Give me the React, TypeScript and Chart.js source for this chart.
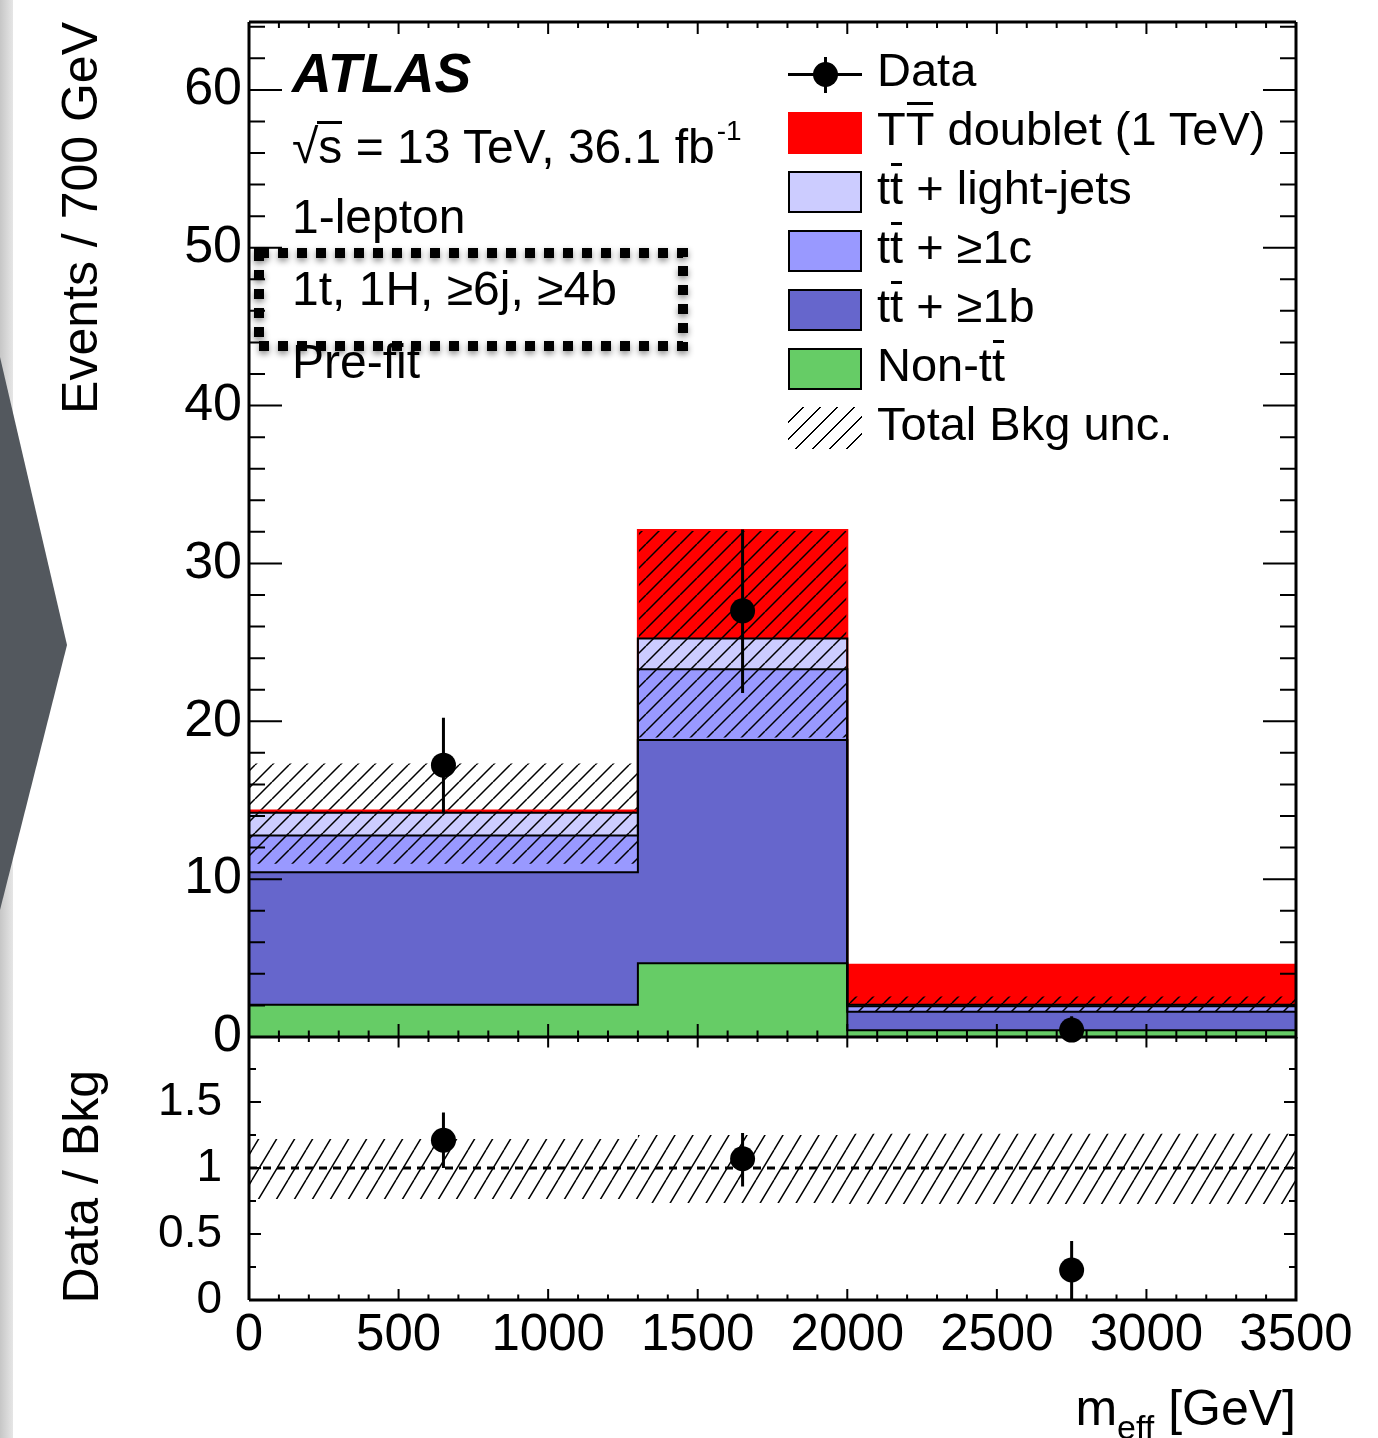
import React, { useEffect, useRef } from 'react';
import { Chart, registerables } from 'chart.js';

Chart.register(...registerables);

const FONT = "'Liberation Sans', Arial, Helvetica, sans-serif";

// ---------------- data ----------------
const binEdges = [0, 1300, 2000, 3500];
const binCenters = [650, 1650, 2750];
const nonTtbar = [2.04, 4.67, 0.42];
const ttbarB = [8.39, 14.15, 1.18];
const ttbarC = [2.33, 4.48, 0.35];
const ttbarLight = [1.45, 1.95, 0.1];
const signalTT = [0.14, 6.87, 2.52];
const bkgUncUp = [17.33, 32.1, 2.56];
const bkgUncDown = [10.97, 18.98, 1.6];
const dataY = [17.22, 27.0, 0.44];
const dataErrLow = [14.18, 21.8, 0.0];
const dataErrHigh = [20.22, 32.15, 1.32];
const ratioY = [1.21, 1.07, 0.227];
const ratioErrLow = [1.0, 0.86, 0.0];
const ratioErrHigh = [1.42, 1.265, 0.447];
const ratioUncUp = [1.22, 1.25, 1.26];
const ratioUncDown = [0.765, 0.735, 0.727];

const xMajorTicks = [0, 500, 1000, 1500, 2000, 2500, 3000, 3500];
const xMinorStep = 100;
const mainYMajorTicks = [0, 10, 20, 30, 40, 50, 60];
const mainYMinorStep = 2;
const ratioYMajorTicks = [0, 0.5, 1, 1.5];
const ratioYMinorStep = 0.25;

const COLORS = {
  signal: '#ff0000',
  light: '#ccccff',
  c: '#9999ff',
  b: '#6666cc',
  nonTt: '#66cc66',
};

// ---------------- helpers ----------------
const stepPoints = (vals: number[]) => [
  ...vals.map((v, i) => ({ x: binEdges[i], y: v })),
  { x: binEdges[binEdges.length - 1], y: vals[vals.length - 1] },
];

const cumulative = (...layers: number[][]) =>
  layers[0].map((_, i) => layers.reduce((s, l) => s + l[i], 0));

const errorBarPoints = (lo: number[], hi: number[]) =>
  binCenters.flatMap((c, i) => [
    { x: c, y: lo[i] },
    { x: c, y: hi[i] },
    { x: c, y: null as any },
  ]);

function makeHatch(w: number, h: number, lw: number) {
  const c = document.createElement('canvas');
  c.width = w;
  c.height = h;
  const g = c.getContext('2d')!;
  g.strokeStyle = '#000';
  g.lineWidth = lw;
  g.beginPath();
  for (const dx of [-w, 0, w]) {
    g.moveTo(dx, h);
    g.lineTo(dx + w, 0);
  }
  g.stroke();
  return g.createPattern(c, 'repeat')!;
}

type FrameCfg = {
  xMajBottom: number; xMinBottom: number; xMajTop: number; xMinTop: number;
  yMaj: number; yMin: number; yMajors: number[]; yStep: number; drawTop: boolean;
};

function framePlugin(cfg: FrameCfg) {
  return {
    id: 'rootFrame',
    afterDatasetDraw(chart: any, args: any) {
      if (args.index !== 1) return;
      const { ctx, chartArea: a } = chart;
      const xs = chart.scales.x;
      const ys = chart.scales.y;
      ctx.save();
      ctx.strokeStyle = '#000';
      ctx.lineWidth = 2;
      ctx.beginPath();
      for (let k = 0; k * xMinorStep <= xs.max + 1e-9; k++) {
        const v = k * xMinorStep;
        const p = xs.getPixelForValue(v);
        const major = xMajorTicks.some((m) => Math.abs(m - v) < 1e-6);
        const lb = major ? cfg.xMajBottom : cfg.xMinBottom;
        const lt = major ? cfg.xMajTop : cfg.xMinTop;
        ctx.moveTo(p, a.bottom);
        ctx.lineTo(p, a.bottom - lb);
        ctx.moveTo(p, a.top);
        ctx.lineTo(p, a.top + lt);
      }
      for (let k = 0; k * cfg.yStep <= ys.max + 1e-9; k++) {
        const v = k * cfg.yStep;
        const p = ys.getPixelForValue(v);
        const major = cfg.yMajors.some((m) => Math.abs(m - v) < 1e-6);
        const l = major ? cfg.yMaj : cfg.yMin;
        ctx.moveTo(a.left, p);
        ctx.lineTo(a.left + l, p);
        ctx.moveTo(a.right, p);
        ctx.lineTo(a.right - l, p);
      }
      ctx.stroke();
      ctx.lineWidth = 3;
      ctx.beginPath();
      if (cfg.drawTop) {
        ctx.moveTo(a.left, a.top);
        ctx.lineTo(a.right, a.top);
      }
      ctx.moveTo(a.right, a.top);
      ctx.lineTo(a.right, a.bottom);
      ctx.lineTo(a.left, a.bottom);
      ctx.moveTo(a.left, a.top);
      ctx.lineTo(a.left, a.bottom);
      ctx.stroke();
      ctx.restore();
    },
  };
}

const stepDataset = (vals: number[], color: string, fill: any, border = '#000') => ({
  data: stepPoints(vals),
  borderColor: border,
  borderWidth: 2,
  backgroundColor: color,
  fill,
  stepped: true,
  pointRadius: 0,
  tension: 0,
});

const noPad = (s: any) => {
  s.paddingTop = 0;
  s.paddingBottom = 0;
  s.paddingLeft = 0;
  s.paddingRight = 0;
};

function mainConfig(): any {
  const topNon = nonTtbar;
  const topB = cumulative(nonTtbar, ttbarB);
  const topC = cumulative(nonTtbar, ttbarB, ttbarC);
  const topL = cumulative(nonTtbar, ttbarB, ttbarC, ttbarLight);
  const topS = cumulative(nonTtbar, ttbarB, ttbarC, ttbarLight, signalTT);
  const hatch = makeHatch(17, 17, 1.5);
  return {
    type: 'line',
    data: {
      datasets: [
        {
          data: binCenters.map((c, i) => ({ x: c, y: dataY[i] })),
          showLine: false,
          pointRadius: 12.5,
          pointBackgroundColor: '#000',
          pointBorderColor: '#000',
          pointBorderWidth: 0,
          clip: false,
        },
        {
          data: errorBarPoints(dataErrLow, dataErrHigh),
          borderColor: '#000',
          borderWidth: 3,
          pointRadius: 0,
          fill: false,
          spanGaps: false,
          clip: false,
        },
        {
          data: stepPoints(bkgUncUp),
          borderWidth: 0,
          borderColor: 'rgba(0,0,0,0)',
          backgroundColor: hatch,
          fill: 3,
          stepped: true,
          pointRadius: 0,
        },
        {
          data: stepPoints(bkgUncDown),
          borderWidth: 0,
          borderColor: 'rgba(0,0,0,0)',
          fill: false,
          stepped: true,
          pointRadius: 0,
        },
        stepDataset(topNon, COLORS.nonTt, 'origin'),
        stepDataset(topB, COLORS.b, '-1'),
        stepDataset(topC, COLORS.c, '-1'),
        stepDataset(topL, COLORS.light, '-1'),
        stepDataset(topS, COLORS.signal, '-1', COLORS.signal),
      ],
    },
    options: {
      responsive: false,
      animation: false,
      events: [],
      layout: { padding: { left: 0, right: 82, top: 22, bottom: 43 } },
      plugins: {
        legend: { display: false },
        tooltip: { enabled: false },
        filler: { drawTime: 'beforeDatasetsDraw', propagate: false },
      },
      scales: {
        x: { type: 'linear', min: 0, max: 3500, display: false },
        y: {
          type: 'linear',
          min: 0,
          max: 64.3,
          afterBuildTicks: (s: any) => {
            s.ticks = mainYMajorTicks.map((v) => ({ value: v }));
          },
          afterFit: (s: any) => {
            s.width = 249;
            noPad(s);
          },
          ticks: {
            color: '#000',
            font: { family: FONT, size: 52 },
            padding: 7,
            callback: (v: any) => String(v),
          },
          grid: { display: false, drawTicks: false },
          border: { display: false },
        },
      },
    },
    plugins: [
      framePlugin({
        xMajBottom: 13, xMinBottom: 6.5, xMajTop: 12, xMinTop: 6,
        yMaj: 33, yMin: 16, yMajors: mainYMajorTicks, yStep: mainYMinorStep, drawTop: true,
      }),
    ],
  };
}

function ratioConfig(): any {
  const hatch = makeHatch(18, 30, 1.5);
  return {
    type: 'line',
    data: {
      datasets: [
        {
          data: binCenters.map((c, i) => ({ x: c, y: ratioY[i] })),
          showLine: false,
          pointRadius: 12.5,
          pointBackgroundColor: '#000',
          pointBorderColor: '#000',
          pointBorderWidth: 0,
          clip: false,
        },
        {
          data: errorBarPoints(ratioErrLow, ratioErrHigh),
          borderColor: '#000',
          borderWidth: 3,
          pointRadius: 0,
          fill: false,
          spanGaps: false,
        },
        {
          data: [{ x: 0, y: 1 }, { x: 3500, y: 1 }],
          borderColor: '#000',
          borderWidth: 3,
          borderDash: [8, 6],
          pointRadius: 0,
          fill: false,
        },
        {
          data: stepPoints(ratioUncUp),
          borderWidth: 0,
          borderColor: 'rgba(0,0,0,0)',
          backgroundColor: hatch,
          fill: 4,
          stepped: true,
          pointRadius: 0,
        },
        {
          data: stepPoints(ratioUncDown),
          borderWidth: 0,
          borderColor: 'rgba(0,0,0,0)',
          fill: false,
          stepped: true,
          pointRadius: 0,
        },
      ],
    },
    options: {
      responsive: false,
      animation: false,
      events: [],
      layout: { padding: { left: 0, right: 82, top: 37, bottom: 0 } },
      plugins: {
        legend: { display: false },
        tooltip: { enabled: false },
        filler: { drawTime: 'beforeDatasetsDraw', propagate: false },
      },
      scales: {
        x: {
          type: 'linear',
          min: 0,
          max: 3500,
          afterBuildTicks: (s: any) => {
            s.ticks = xMajorTicks.map((v) => ({ value: v }));
          },
          afterFit: (s: any) => {
            s.height = 138;
            noPad(s);
          },
          ticks: {
            color: '#000',
            font: { family: FONT, size: 51 },
            padding: 5,
            autoSkip: false,
            maxRotation: 0,
            minRotation: 0,
            callback: (v: any) => String(v),
          },
          grid: { display: false, drawTicks: false },
          border: { display: false },
        },
        y: {
          type: 'linear',
          min: 0,
          max: 1.992,
          afterBuildTicks: (s: any) => {
            s.ticks = ratioYMajorTicks.map((v) => ({ value: v }));
          },
          afterFit: (s: any) => {
            s.width = 249;
            noPad(s);
          },
          ticks: {
            color: '#000',
            font: { family: FONT, size: 46 },
            padding: 27,
            callback: (v: any) => String(v),
          },
          grid: { display: false, drawTicks: false },
          border: { display: false },
        },
      },
    },
    plugins: [
      framePlugin({
        xMajBottom: 11, xMinBottom: 5.5, xMajTop: 10.5, xMinTop: 5,
        yMaj: 12, yMin: 7, yMajors: ratioYMajorTicks, yStep: ratioYMinorStep, drawTop: false,
      }),
    ],
  };
}

// ---------------- text helpers ----------------
const Txt = ({ x, base, size, children, style }: any) => (
  <div
    style={{
      position: 'absolute',
      left: x,
      top: base - 0.8465 * size,
      fontSize: size,
      lineHeight: `${size}px`,
      fontFamily: FONT,
      whiteSpace: 'nowrap',
      color: '#000',
      ...style,
    }}
  >
    {children}
  </div>
);

const Ov = ({ children, size, rise, l = '6%', r = '6%' }: any) => (
  <span style={{ position: 'relative', display: 'inline-block' }}>
    {children}
    <span
      style={{
        position: 'absolute',
        left: l,
        right: r,
        top: 0.8465 * size - rise - 1.5,
        height: 3,
        background: '#000',
      }}
    />
  </span>
);

const LS = 47; // legend font size
const legendBase = (i: number) => 86 + 58.9 * i;
const swTop = (i: number) => 112 + 58.9 * (i - 1);

const Swatch = ({ i, color, border }: any) => (
  <div
    style={{
      position: 'absolute',
      left: 788,
      top: swTop(i),
      width: 74,
      height: 42,
      boxSizing: 'border-box',
      background: color,
      border: `2px solid ${border || '#000'}`,
    }}
  />
);

export default function App() {
  const mainRef = useRef<HTMLCanvasElement>(null);
  const ratioRef = useRef<HTMLCanvasElement>(null);

  useEffect(() => {
    const mainChart = new Chart(mainRef.current!, mainConfig());
    const ratioChart = new Chart(ratioRef.current!, ratioConfig());
    return () => {
      mainChart.destroy();
      ratioChart.destroy();
    };
  }, []);

  const TS = 48;
  return (
    <div
      style={{
        position: 'absolute',
        left: 0,
        top: 0,
        width: 1378,
        height: 1438,
        background: '#fff',
        overflow: 'hidden',
        fontFamily: FONT,
      }}
    >
      {/* page decorations */}
      <div
        style={{
          position: 'absolute', left: 0, top: 0, width: 13, height: 1438,
          background: 'linear-gradient(to right, #c6c6c6, #e6e6e6)',
        }}
      />
      <svg style={{ position: 'absolute', left: 0, top: 0 }} width={80} height={1438}>
        <polygon points="0,357 67,645 0,910" fill="#53585e" />
      </svg>

      <canvas
        ref={mainRef}
        width={1378}
        height={1080}
        style={{ position: 'absolute', left: 0, top: 0, width: 1378, height: 1080 }}
      />
      <canvas
        ref={ratioRef}
        width={1378}
        height={438}
        style={{ position: 'absolute', left: 0, top: 1000, width: 1378, height: 438 }}
      />

      {/* axis titles */}
      <div
        style={{
          position: 'absolute', left: 55, top: 22 + 500, width: 500, textAlign: 'right',
          fontSize: 50, lineHeight: '50px', whiteSpace: 'nowrap',
          transform: 'rotate(-90deg)', transformOrigin: 'top left',
        }}
      >
        Events / 700 GeV
      </div>
      <div
        style={{
          position: 'absolute', left: 56, top: 1070 + 400, width: 400, textAlign: 'right',
          fontSize: 50, lineHeight: '50px', whiteSpace: 'nowrap',
          transform: 'rotate(-90deg)', transformOrigin: 'top left',
        }}
      >
        Data / Bkg
      </div>
      <div
        style={{
          position: 'absolute', right: 82, top: 1425 - 0.8465 * 50,
          fontSize: 50, lineHeight: '50px', whiteSpace: 'nowrap',
        }}
      >
        m<span style={{ fontSize: 34, position: 'relative', top: 14 }}>eff</span> [GeV]
      </div>

      {/* ATLAS labels */}
      <Txt x={292} base={93} size={55} style={{ fontWeight: 'bold', fontStyle: 'italic' }}>
        ATLAS
      </Txt>
      <Txt x={292} base={164} size={TS}>
        √<Ov size={TS} rise={42} l="-4%" r="0%">s</Ov> = 13 TeV, 36.1 fb
        <span style={{ fontSize: 28, position: 'relative', top: -23, marginLeft: 2 }}>-1</span>
      </Txt>
      <Txt x={292} base={234} size={TS}>1-lepton</Txt>
      <Txt x={292} base={306} size={TS}>1t, 1H, ≥6j, ≥4b</Txt>
      <Txt x={292} base={379} size={TS}>Pre-fit</Txt>

      {/* highlight box */}
      <svg style={{ position: 'absolute', left: 0, top: 0 }} width={1378} height={500}>
        <defs>
          <filter id="sh" x="-10%" y="-40%" width="120%" height="180%">
            <feDropShadow dx="0" dy="3" stdDeviation="3" floodColor="#000" floodOpacity="0.45" />
          </filter>
        </defs>
        <rect
          x={259} y={253} width={424} height={93}
          fill="none" stroke="#000" strokeWidth={10} strokeDasharray="10 9"
          filter="url(#sh)"
        />
      </svg>

      {/* legend */}
      <div style={{ position: 'absolute', left: 788, top: 72.5, width: 74, height: 3, background: '#000' }} />
      <div style={{ position: 'absolute', left: 823.5, top: 57, width: 3, height: 36, background: '#000' }} />
      <div
        style={{
          position: 'absolute', left: 812.5, top: 61.5, width: 25, height: 25,
          borderRadius: '50%', background: '#000',
        }}
      />
      <Txt x={877} base={legendBase(0)} size={LS}>Data</Txt>

      <Swatch i={1} color={COLORS.signal} border={COLORS.signal} />
      <Txt x={877} base={legendBase(1)} size={LS}>
        T<Ov size={LS} rise={41}>T</Ov> doublet (1 TeV)
      </Txt>

      <Swatch i={2} color={COLORS.light} />
      <Txt x={877} base={legendBase(2)} size={LS}>
        t<Ov size={LS} rise={39}>t</Ov> + light-jets
      </Txt>

      <Swatch i={3} color={COLORS.c} />
      <Txt x={877} base={legendBase(3)} size={LS}>
        t<Ov size={LS} rise={39}>t</Ov> + ≥1c
      </Txt>

      <Swatch i={4} color={COLORS.b} />
      <Txt x={877} base={legendBase(4)} size={LS}>
        t<Ov size={LS} rise={39}>t</Ov> + ≥1b
      </Txt>

      <Swatch i={5} color={COLORS.nonTt} />
      <Txt x={877} base={legendBase(5)} size={LS}>
        Non-t<Ov size={LS} rise={39}>t</Ov>
      </Txt>

      <div
        style={{
          position: 'absolute', left: 788, top: swTop(6), width: 74, height: 42,
          background:
            'repeating-linear-gradient(135deg, transparent 0px, transparent 10.5px, #000 10.5px, #000 12px)',
        }}
      />
      <Txt x={877} base={legendBase(6)} size={LS}>Total Bkg unc.</Txt>
    </div>
  );
}
